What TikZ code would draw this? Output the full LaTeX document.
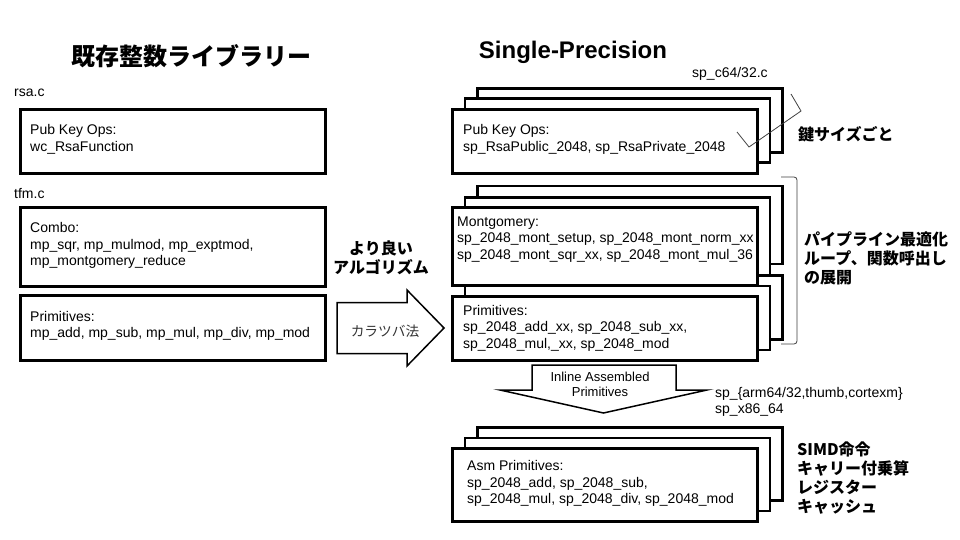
\documentclass[tikz,border=0pt]{standalone}
\usepackage{fontspec}
\setmainfont{Liberation Sans}
\newfontfamily\jp{Noto Sans CJK JP}
\usetikzlibrary{
  positioning
}

\tikzset{
  card/.style={draw, line width=2.6pt, fill=white, anchor=north west, minimum width=305pt, inner sep=0pt},
  boxtext/.style={anchor=west, align=left, inner sep=0pt, font=\fontsize{14}{16.5}\selectfont},
  filename/.style={anchor=west, inner sep=0pt, font=\fontsize{14}{16}\selectfont},
  note/.style={anchor=west, align=left, inner sep=0pt, font=\jp\bfseries\fontsize{16}{18.7}\selectfont},
  blockarrow/.style={draw, line width=1.5pt, fill=white, line join=miter},
  bracket/.style={draw, line width=0.8pt, black!75}
}

\begin{document}
\begin{tikzpicture}[x=1pt, y=-1pt]
        \fill[white] (0,0) rectangle (960,540);
        \useasboundingbox (0,0) rectangle (960,540);
        % titles
        \node[font=\jp\bfseries\fontsize{24}{28}\selectfont] (oldtitle) at (191.5,56) { 既存整数ライブラリー };
        \node[font=\bfseries\fontsize{24}{28}\selectfont] (sptitle) at (573,52) { Single-Precision };
        % existing library
        \node[filename] (rsafile) at (14,93) { rsa.c };
        \node[card, minimum height=64pt] (rsa) at (19,108) {};
        \node[boxtext] (rsatxt) at ([xshift=11pt, yshift=2pt]rsa.west) { Pub Key Ops:\\wc\_RsaFunction };
        \node[filename] (tfmfile) at (14,194) { tfm.c };
        \node[card, minimum height=79pt] (combo) at (19,206) {};
        \node[boxtext] (combotxt) at ([xshift=11pt, yshift=1pt]combo.west) { Combo:\\mp\_sqr, mp\_mulmod, mp\_exptmod,\\mp\_montgomery\_reduce };
        \node[card, minimum height=65pt] (prim) at (19,294) {};
        \node[boxtext] (primtxt) at ([xshift=11pt, yshift=2pt]prim.west) { Primitives:\\mp\_add, mp\_sub, mp\_mul, mp\_div, mp\_mod };
        % karatsuba arrow
        \node[note, anchor=center, align=center] (better) at (381,258) { より良い\\アルゴリズム };
	\draw[blockarrow] (337,302.5) -- (407,302.5) -- (407,290) -- (444,328) -- (407,366) -- (407,353.5) -- (337,353.5) -- cycle;
        \node[font=\jp\fontsize{13.7}{16}\selectfont, black!80] (karatsuba) at (385,331) { カラツバ法 };
        % single precision
        \node[filename] (spfile) at (692,74) { sp\_c64/32.c };
        \coordinate (pubc) at (451,108);
        \node[card, minimum height=64pt] (pubback) at ([shift={(25,-21)}]pubc) {};
        \node[card, minimum height=64pt] (pubmid) at ([shift={(12.5,-10.5)}]pubc) {};
        \node[card, minimum height=64pt] (pub) at (pubc) {};
        \node[boxtext] (pubtxt) at ([xshift=12pt, yshift=2pt]pub.west) { Pub Key Ops:\\sp\_RsaPublic\_2048, sp\_RsaPrivate\_2048 };
        \coordinate (spprimc) at (451,295);
        \node[card, minimum height=64pt] (spprimback) at ([shift={(25,-21)}]spprimc) {};
        \node[card, minimum height=64pt] (spprimmid) at ([shift={(12.5,-10.5)}]spprimc) {};
        \coordinate (montc) at (451,206);
        \node[card, minimum height=78pt] (montback) at ([shift={(25,-21.5)}]montc) {};
        \node[card, minimum height=78pt] (montmid) at ([shift={(12.5,-10)}]montc) {};
        \node[card, minimum height=78pt] (mont) at (montc) {};
        \node[boxtext] (monttxt) at ([xshift=6pt, yshift=7pt]mont.west) { Montgomery:\\sp\_2048\_mont\_setup, sp\_2048\_mont\_norm\_xx\\sp\_2048\_mont\_sqr\_xx, sp\_2048\_mont\_mul\_36 };
        \node[card, minimum height=64pt] (spprim) at (spprimc) {};
        \node[boxtext] (spprimtxt) at ([xshift=12pt, yshift=0pt]spprim.west) { Primitives:\\sp\_2048\_add\_xx, sp\_2048\_sub\_xx,\\sp\_2048\_mul,\_xx, sp\_2048\_mod };
        % inline asm arrow
	\draw[blockarrow] (532,365) -- (676,365) -- (676,390) -- (707,390) -- (603.5,413) -- (500,390) -- (532,390) -- cycle;
        \node[align=center, inner sep=0pt, font=\fontsize{13}{15}\selectfont] (inline) at (600,384.5) { Inline Assembled\\Primitives };
        \node[boxtext] (archs) at (715,402) { sp\_\{arm64/32,thumb,cortexm\}\\sp\_x86\_64 };
        \coordinate (asmc) at (451,447);
        \node[card, minimum height=73pt] (asmback) at ([shift={(25,-21)}]asmc) {};
        \node[card, minimum height=73pt] (asmmid) at ([shift={(12.5,-10.5)}]asmc) {};
        \node[card, minimum height=73pt] (asm) at (asmc) {};
        \node[boxtext] (asmtxt) at ([xshift=16pt, yshift=1pt]asm.west) { Asm Primitives:\\sp\_2048\_add, sp\_2048\_sub,\\sp\_2048\_mul, sp\_2048\_div, sp\_2048\_mod };
        % notes and brackets
        \draw[bracket] (737,132) -- (749,147) -- (801,111) -- (791,94);
        \node[note] (keysize) at (798,134) { 鍵サイズごと };
        \draw[bracket, rounded corners=3pt] (781,177) -- (797,177) -- (797,344) -- (781,344);
        \node[note, font=\jp\bfseries\fontsize{16}{19}\selectfont] (pipeline) at (804,258) { パイプライン最適化\\ループ、関数呼出し\\の展開 };
        \node[note] (simd) at (797,478) { SIMD命令\\キャリー付乗算\\レジスター\\キャッシュ };
\end{tikzpicture}
\end{document}
